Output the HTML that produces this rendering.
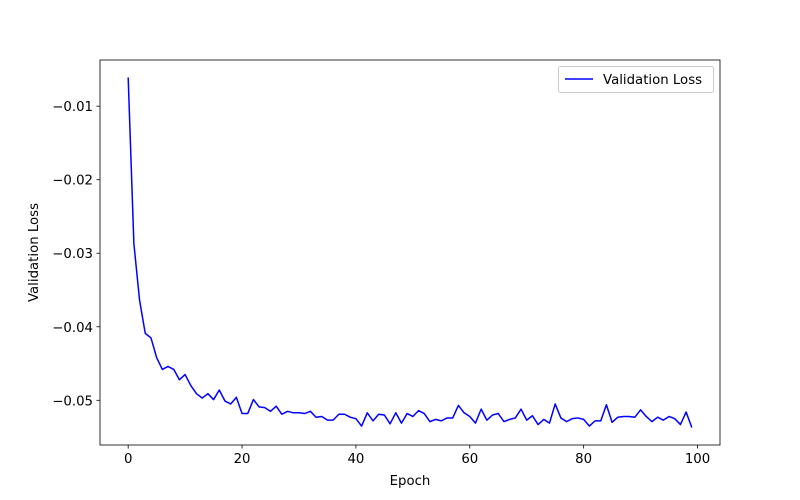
<!DOCTYPE html>
<html><head><meta charset="utf-8">
<style>
body{margin:0;background:#fff;}
svg{display:block;font-family:"DejaVu Sans","Liberation Sans",sans-serif;}
</style></head>
<body>
<svg id="chart" width="800" height="500" viewBox="0 0 800 500">
<rect x="0" y="0" width="800" height="500" fill="#fff"/>
</svg>
<script>
const epochs = Array.from({length:100},(_,i)=>i);
const lossValues = [-0.0061,-0.0287,-0.0364,-0.0409,-0.0415,-0.0442,-0.0458,-0.0454,-0.0458,-0.0472,
-0.0465,-0.0480,-0.0491,-0.0497,-0.0491,-0.0499,-0.0486,-0.0501,-0.0505,-0.0496,
-0.0518,-0.0518,-0.0499,-0.0509,-0.0510,-0.0515,-0.0508,-0.0519,-0.0515,-0.0517,
-0.0517,-0.0518,-0.0515,-0.0523,-0.0522,-0.0527,-0.0527,-0.0519,-0.0519,-0.0523,
-0.0525,-0.0535,-0.0517,-0.0528,-0.0519,-0.0520,-0.0532,-0.0517,-0.0531,-0.0518,
-0.0522,-0.0514,-0.0518,-0.0529,-0.0526,-0.0528,-0.0524,-0.0524,-0.0507,-0.0517,
-0.0522,-0.0531,-0.0512,-0.0527,-0.0520,-0.0518,-0.0529,-0.0526,-0.0524,-0.0512,
-0.0527,-0.0521,-0.0533,-0.0526,-0.0531,-0.0505,-0.0524,-0.0529,-0.0525,-0.0524,
-0.0526,-0.0535,-0.0528,-0.0528,-0.0506,-0.0530,-0.0523,-0.0522,-0.0522,-0.0523,
-0.0513,-0.0522,-0.0529,-0.0523,-0.0527,-0.0522,-0.0525,-0.0533,-0.0516,-0.0537];
const xTicks = [0,20,40,60,80,100];
const yTicks = [-0.01,-0.02,-0.03,-0.04,-0.05];
const yTickLabels = ["\u22120.01","\u22120.02","\u22120.03","\u22120.04","\u22120.05"];

const svg = document.getElementById('chart');
const NS = 'http://www.w3.org/2000/svg';
const L=100,R=720,T=60,B=445;
const xmin0=Math.min(...epochs),xmax0=Math.max(...epochs);
const ymin0=Math.min(...lossValues),ymax0=Math.max(...lossValues);
const xm=(xmax0-xmin0)*0.05, ym=(ymax0-ymin0)*0.05;
const xlo=xmin0-xm,xhi=xmax0+xm,ylo=ymin0-ym,yhi=ymax0+ym;
const sx=v=>L+(v-xlo)/(xhi-xlo)*(R-L);
const sy=v=>B-(v-ylo)/(yhi-ylo)*(B-T);
function mk(tag,attrs,parent){const e=document.createElementNS(NS,tag);for(const k in attrs)e.setAttribute(k,attrs[k]);(parent||svg).appendChild(e);return e;}

const d = epochs.map((e,i)=>(i?'L':'M')+sx(e).toFixed(2)+','+sy(lossValues[i]).toFixed(2)).join('');
const line = mk('path',{d:d,fill:'none',stroke:'#0000ff','stroke-width':1.5,'stroke-linejoin':'round'});



const frame = mk('rect',{x:L,y:T,width:R-L,height:B-T,fill:'none',stroke:'#000','stroke-width':0.8});



xTicks.forEach(t=>{
  const x=sx(t);
  const tk=mk('line',{x1:x,x2:x,y1:B,y2:B+3.5,stroke:'#000','stroke-width':0.8});
  
  
  const tx=mk('text',{x:x,y:B+18,'text-anchor':'middle','font-size':'13.3px',fill:'#000'});
  tx.textContent=t;
  
  
});
yTicks.forEach((t,i)=>{
  const y=sy(t);
  const tk=mk('line',{x1:L-3.5,x2:L,y1:y,y2:y,stroke:'#000','stroke-width':0.8});
  
  
  const tx=mk('text',{x:L-7,y:y+5,'text-anchor':'end','font-size':'13.3px',fill:'#000'});
  tx.textContent=yTickLabels[i];
  
  
});
const xt=mk('text',{x:(L+R)/2,y:485,'text-anchor':'middle','font-size':'13.3px'});
xt.textContent='Epoch';


const yt=mk('text',{x:38,y:(T+B)/2,'text-anchor':'middle','font-size':'13.3px',transform:'rotate(-90 38 '+((T+B)/2)+')'});
yt.textContent='Validation Loss';



const lg=mk('g',{});


mk('rect',{x:558.5,y:66.5,width:155,height:26,rx:2,fill:'#fff','fill-opacity':0.8,stroke:'#ccc','stroke-width':1},lg);
const ll=mk('line',{x1:565,x2:593,y1:79,y2:79,stroke:'#0000ff','stroke-width':1.5},lg);


const lt=mk('text',{x:603,y:84,'font-size':'13.3px'},lg);
lt.textContent='Validation Loss';


</script>
</body></html>
